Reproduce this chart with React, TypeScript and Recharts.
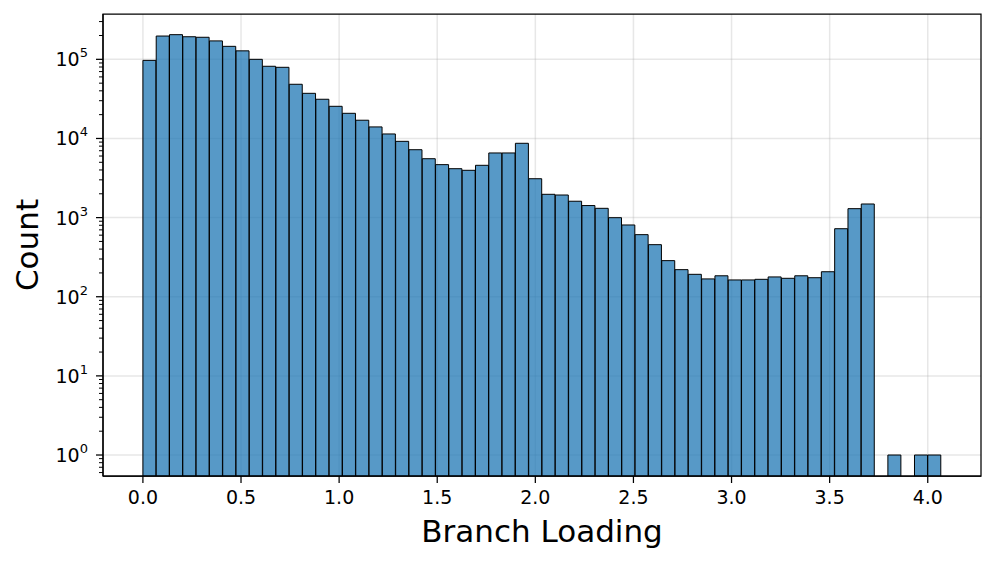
import {
  ComposedChart,
  Bar,
  XAxis,
  YAxis,
  CartesianGrid,
  ReferenceArea,
} from 'recharts';

// histogram of branch loading, 60 equal-width bins from 0 to ~4.07
const binCounts: (number | null)[] = [
  97000, 197000, 205000, 193000, 190000, 171000, 146000, 128000, 100000, 81700,
  79300, 48400, 37200, 31300, 25500, 20800, 17000, 14000, 11400, 9200,
  7210, 5550, 4670, 4150, 3960, 4580, 6560, 6560, 8690, 3100,
  1970, 1930, 1610, 1420, 1310, 998, 807, 609, 455, 286,
  220, 192, 168, 184, 163, 163, 166, 178, 171, 184,
  174, 207, 724, 1297, 1486, null, 1, null, 1, 1,
];
const binMin = 0;
const binMax = 4.068;

const xTicks = [0, 0.5, 1, 1.5, 2, 2.5, 3, 3.5, 4];
const yMajorTicks = [1, 10, 100, 1000, 10000, 100000];

const X_DOMAIN: [number, number] = [-0.2034, 4.2714];
const Y_DOMAIN: [number, number] = [0.543, 374000];

const CHART_W = 996;
const CHART_H = 563;
const Y_AXIS_W = 103;
const X_AXIS_H = 87;
const MARGIN = { top: 14, right: 15, left: 0, bottom: 0 };
const FONT = '"DejaVu Sans", sans-serif';

const binWidth = (binMax - binMin) / binCounts.length;
const rows = binCounts.map((count, i) => ({
  bin: i,
  mid: binMin + (i + 0.5) * binWidth,
  count,
}));

// minor log ticks (2..9 x 10^k) inside the visible range
const yMinorTicks: number[] = [];
for (const m of [0.1, ...yMajorTicks]) {
  for (let k = 2; k <= 9; k++) {
    const v = m * k;
    if (v >= Y_DOMAIN[0] && v <= Y_DOMAIN[1]) yMinorTicks.push(v);
  }
}
const yAllTicks = [...yMajorTicks, ...yMinorTicks].sort((a, b) => a - b);

// line the category bands up with the numeric axis
const plotW = CHART_W - Y_AXIS_W - MARGIN.right;
const span = X_DOMAIN[1] - X_DOMAIN[0];
const padLeft = (plotW * (binMin - X_DOMAIN[0])) / span;
const padRight = (plotW * (X_DOMAIN[1] - binMax)) / span;

interface TickProps {
  x?: number;
  y?: number;
  payload?: { value: number };
}

function LogTick({ x = 0, y = 0, payload }: TickProps) {
  const v = payload?.value ?? 1;
  const exp = Math.round(Math.log10(v));
  const major = Math.abs(v - Math.pow(10, exp)) < 1e-6 * v;
  return (
    <g>
      <line
        x1={x - (major ? 7 : 4)}
        x2={x}
        y1={y}
        y2={y}
        stroke="#000"
        strokeWidth={major ? 1.25 : 1}
      />
      {major && (
        <text x={x - 15} y={y + 7} textAnchor="end" fontSize={19} fontFamily={FONT} fill="#000">
          10
          <tspan dy={-9} fontSize={13}>
            {exp}
          </tspan>
        </text>
      )}
    </g>
  );
}

interface LabelProps {
  viewBox?: { x: number; y: number; width: number; height: number };
}

function XLabel({ viewBox }: LabelProps) {
  if (!viewBox) return null;
  return (
    <text
      x={viewBox.x + viewBox.width / 2}
      y={viewBox.y + 66}
      textAnchor="middle"
      fontSize={31}
      fontFamily={FONT}
      fill="#000"
    >
      Branch Loading
    </text>
  );
}

function YLabel({ viewBox }: LabelProps) {
  if (!viewBox) return null;
  const cx = 38;
  const cy = viewBox.y + viewBox.height / 2;
  return (
    <text
      x={cx}
      y={cy}
      transform={`rotate(-90, ${cx}, ${cy})`}
      textAnchor="middle"
      fontSize={31}
      fontFamily={FONT}
      fill="#000"
    >
      Count
    </text>
  );
}

export default function App() {
  return (
    <div style={{ position: 'absolute', left: 0, top: 0, background: '#fff' }}>
      <ComposedChart
        width={CHART_W}
        height={CHART_H}
        data={rows}
        margin={MARGIN}
        barCategoryGap={0}
        barGap={0}
      >
        <CartesianGrid
          xAxisId="val"
          yAxisId="y"
          verticalValues={xTicks}
          horizontalValues={yMajorTicks}
          stroke="#b0b0b0"
          strokeOpacity={0.3}
          strokeWidth={1.5}
        />
        <XAxis
          xAxisId="val"
          dataKey="mid"
          type="number"
          domain={X_DOMAIN}
          allowDataOverflow
          ticks={xTicks}
          interval={0}
          tickFormatter={(v: number) => v.toFixed(1)}
          tick={{ fill: '#000', fontSize: 19, fontFamily: FONT }}
          tickSize={7}
          tickMargin={8}
          tickLine={{ stroke: '#000', strokeWidth: 1.25 }}
          axisLine={{ stroke: '#000', strokeWidth: 1.25 }}
          height={X_AXIS_H}
          label={<XLabel />}
        />
        <XAxis
          xAxisId="bins"
          dataKey="bin"
          type="category"
          hide
          height={0}
          padding={{ left: padLeft, right: padRight }}
        />
        <YAxis
          yAxisId="y"
          type="number"
          scale="log"
          domain={Y_DOMAIN}
          allowDataOverflow
          ticks={yAllTicks}
          interval={0}
          tick={<LogTick />}
          tickSize={0}
          tickMargin={0}
          tickLine={false}
          axisLine={{ stroke: '#000', strokeWidth: 1.25 }}
          width={Y_AXIS_W}
          label={<YLabel />}
        />
        <Bar
          xAxisId="bins"
          yAxisId="y"
          dataKey="count"
          fill="#1f77b4"
          fillOpacity={0.75}
          stroke="#000"
          strokeWidth={1}
          isAnimationActive={false}
        />
        <ReferenceArea
          xAxisId="val"
          yAxisId="y"
          x1={X_DOMAIN[0]}
          x2={X_DOMAIN[1]}
          y1={Y_DOMAIN[0]}
          y2={Y_DOMAIN[1]}
          fill="none"
          stroke="#000"
          strokeWidth={1.25}
          ifOverflow="visible"
        />
      </ComposedChart>
    </div>
  );
}
